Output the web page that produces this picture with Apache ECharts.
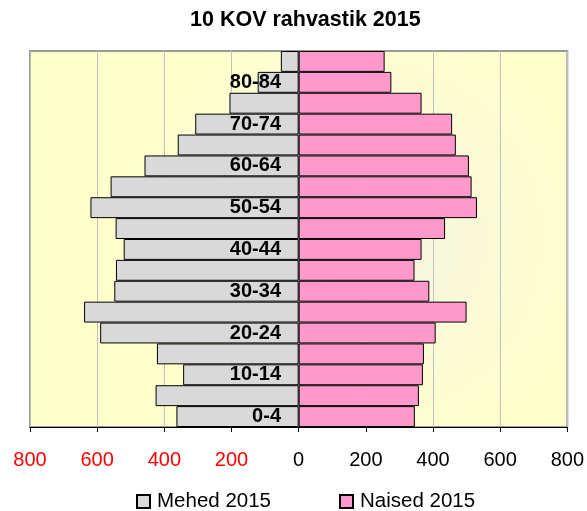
<!DOCTYPE html>
<html>
<head>
<meta charset="utf-8">
<script src="https://cdn.jsdelivr.net/npm/echarts@6/dist/echarts.min.js"></script>
<style>html,body{margin:0;padding:0;background:#fff}#c{width:587px;height:511px}</style>
</head>
<body>
<div id="c"></div>
<script>
var categories = ['0-4','5-9','10-14','15-19','20-24','25-29','30-34','35-39','40-44','45-49','50-54','55-59','60-64','65-69','70-74','75-79','80-84','85+'];
var men2015 = [364,426,344,422,591,639,549,544,521,545,620,560,459,360,308,206,122,53];
var women2015 = [346,358,370,373,408,500,389,345,366,436,531,515,507,468,457,366,276,256];
var xTicks = [-800,-600,-400,-200,0,200,400,600,800];

var chart = echarts.init(document.getElementById('c'));
var font = 'Liberation Sans, Arial, sans-serif';
chart.setOption({
  animation: false,
  title: {
    text: '10 KOV rahvastik 2015',
    left: 185, top: 4,
    textStyle: {fontFamily: font, fontSize: 21.5, fontWeight: 'bold', color: '#000'}
  },
  legend: {
    top: 486, left: 131,
    itemWidth: 13, itemHeight: 13, itemGap: 68,
    icon: 'rect',
    textStyle: {fontFamily: font, fontSize: 20.5, color: '#000', padding: [0, 0, 0, 2]},
    data: ['Mehed 2015', 'Naised 2015']
  },
  grid: {
    left: 30, right: 18, top: 51, bottom: 84,
    show: true,
    borderColor: '#999', borderWidth: 2,
    backgroundColor: {
      type: 'radial', x: 0.62, y: 0.5, r: 0.6,
      colorStops: [{offset: 0, color: '#F4F4E4'}, {offset: 1, color: '#FFFFCC'}]
    }
  },
  xAxis: {
    type: 'value', min: -800, max: 800, interval: 200,
    axisLine: {show: true, onZero: false, lineStyle: {color: '#000', width: 1}},
    axisTick: {show: true, length: 5, lineStyle: {color: '#000'}},
    splitLine: {show: true, lineStyle: {color: '#c0c0c0', width: 1}},
    axisLabel: {
      margin: 23,
      fontFamily: font, fontSize: 20,
      formatter: function (v) { return String(Math.abs(v)); },
      color: function (v) { return Number(v) < 0 ? '#FF0000' : '#000000'; }
    }
  },
  yAxis: {
    type: 'category', data: categories,
    z: 10,
    offset: -259,
    axisLine: {show: false},
    axisTick: {show: false},
    splitLine: {show: false},
    axisLabel: {
      interval: 1, margin: 8,
      fontFamily: font, fontSize: 20, fontWeight: 'bold', color: '#000'
    }
  },
  series: [
    {
      name: 'Mehed 2015', type: 'bar', stack: 'p',
      barCategoryGap: 0,
      data: men2015.map(function (v) { return -v; }),
      itemStyle: {color: '#D9D9D9', borderColor: '#000', borderWidth: 1}
    },
    {
      name: 'Naised 2015', type: 'bar', stack: 'p',
      barCategoryGap: 0,
      data: women2015,
      itemStyle: {color: '#FF99CC', borderColor: '#000', borderWidth: 1}
    }
  ]
});
</script>
</body>
</html>
